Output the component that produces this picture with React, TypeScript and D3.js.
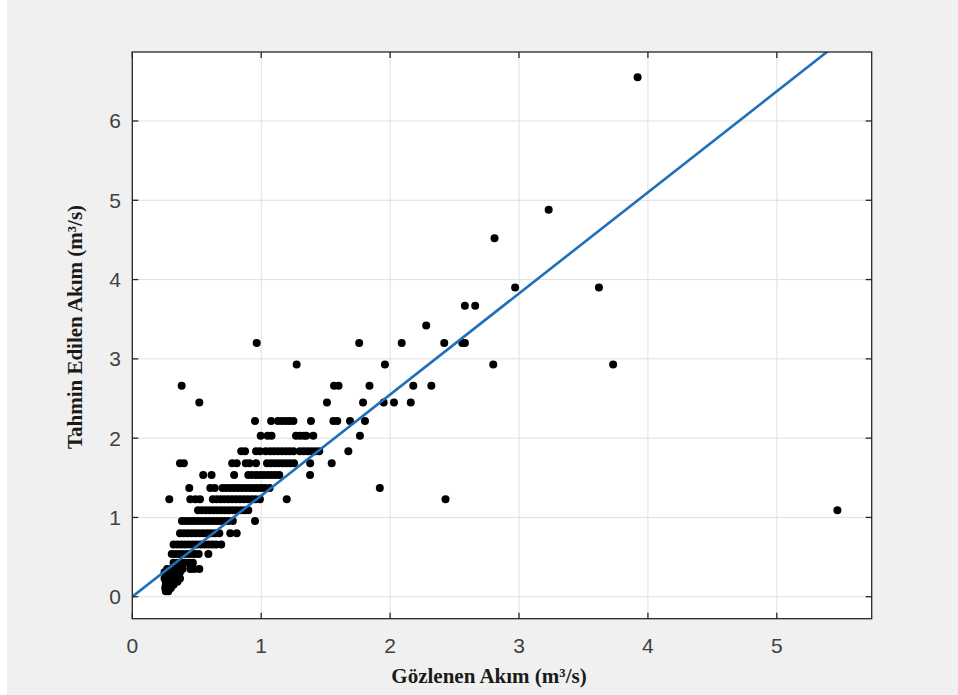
import React from "react";
import * as d3 from "d3";

// Tick labels
const xTicks = [0, 1, 2, 3, 4, 5];
const yTicks = [0, 1, 2, 3, 4, 5, 6];

// Regression line (predicted = slope * observed + intercept)
const fitSlope = 1.275;
const fitIntercept = 0;

// Predicted levels (m³/s) and the observed values (m³/s) that fall on each level
const predictedLevels = [
  6.55, 4.88, 4.52, 3.9, 3.67, 3.42, 3.2, 2.93, 2.66, 2.45, 2.215, 2.03, 1.835,
  1.685, 1.535, 1.37, 1.228, 1.09, 0.955, 0.8, 0.66, 0.54, 0.43, 0.35, 0.31,
  0.27, 0.23, 0.19, 0.15, 0.11, 0.07,
];
const observedByLevel: number[][] = [
  [3.92],
  [3.23],
  [2.81],
  [2.97, 3.62],
  [2.58, 2.66],
  [2.28],
  [0.965, 1.76, 2.09, 2.42, 2.56, 2.58],
  [1.275, 1.96, 2.8, 3.73],
  [0.383, 1.565, 1.6, 1.84, 2.18, 2.32],
  [0.52, 1.51, 1.79, 1.95, 2.03, 2.16],
  [0.952, 1.077, 1.13, 1.16, 1.19, 1.22, 1.25, 1.386, 1.56, 1.59, 1.689, 1.805],
  [0.996, 1.05, 1.08, 1.27, 1.3, 1.33, 1.35, 1.404, 1.766],
  [0.845, 0.875, 0.96, 0.99, 1.035, 1.07, 1.1, 1.13, 1.16, 1.19, 1.22, 1.25, 1.3, 1.33, 1.36, 1.39, 1.42, 1.45, 1.676],
  [0.37, 0.4, 0.775, 0.81, 0.88, 0.91, 0.96, 1.045, 1.075, 1.105, 1.135, 1.165, 1.195, 1.225, 1.255, 1.38, 1.547],
  [0.55, 0.615, 0.79, 0.9, 0.93, 0.96, 0.99, 1.02, 1.05, 1.08, 1.11, 1.14, 1.379],
  [0.442, 0.605, 0.64, 0.7, 0.73, 0.76, 0.79, 0.82, 0.85, 0.88, 0.91, 0.94, 0.97, 1.0, 1.03, 1.065, 1.92],
  [0.287, 0.45, 0.49, 0.525, 0.625, 0.655, 0.685, 0.715, 0.745, 0.775, 0.805, 0.835, 0.865, 0.895, 0.925, 0.955, 0.99, 1.198, 2.43],
  [0.51, 0.54, 0.57, 0.6, 0.63, 0.66, 0.69, 0.72, 0.75, 0.78, 0.81, 0.84, 0.87, 0.9, 5.47],
  [0.385, 0.415, 0.445, 0.475, 0.505, 0.535, 0.565, 0.595, 0.625, 0.655, 0.685, 0.715, 0.745, 0.78, 0.952],
  [0.37, 0.4, 0.43, 0.46, 0.49, 0.52, 0.55, 0.58, 0.61, 0.64, 0.675, 0.76, 0.81],
  [0.32, 0.35, 0.38, 0.41, 0.44, 0.47, 0.5, 0.53, 0.56, 0.59, 0.62, 0.65, 0.69],
  [0.306, 0.335, 0.365, 0.395, 0.425, 0.455, 0.485, 0.515, 0.59],
  [0.32, 0.35, 0.38, 0.41, 0.44, 0.47],
  [0.27, 0.3, 0.33, 0.36, 0.39, 0.45, 0.48, 0.52],
  [0.25, 0.28, 0.31, 0.34, 0.37],
  [0.26, 0.29, 0.32, 0.35],
  [0.25, 0.28, 0.31, 0.34, 0.37],
  [0.26, 0.29, 0.32, 0.35],
  [0.26, 0.29, 0.32],
  [0.255, 0.28, 0.3],
  [0.26, 0.28],
];

const W = 958;
const H = 695;
const L = 132.3, R = 871.7, T = 52, B = 618.7;

export default function App() {
  const x = d3.scaleLinear().domain([0, 5.736]).range([L, R]);
  const y = d3.scaleLinear().domain([-0.277, 6.87]).range([B, T]);

  const points: [number, number][] = [];
  predictedLevels.forEach((lv, i) => {
    observedByLevel[i].forEach((ob) => points.push([ob, lv]));
  });

  const xEnd = (6.87 - fitIntercept) / fitSlope;
  const line = d3.line<number>()
    .x((v) => x(v))
    .y((v) => y(fitSlope * v + fitIntercept));

  const axisColor = "#262626";
  const gridColor = "#dfdfdf";
  const tickLen = 6;

  return (
    <svg
      width={W}
      height={H}
      style={{ position: "absolute", left: 0, top: 0, display: "block" }}
    >
      <rect x={0} y={0} width={W} height={H} fill="#ffffff" />
      <rect x={7} y={0} width={W - 7} height={H} fill="#f0f0f0" />
      <defs>
        <clipPath id="plotclip">
          <rect x={L} y={T} width={R - L} height={B - T} />
        </clipPath>
      </defs>
      <rect x={L} y={T} width={R - L} height={B - T} fill="#ffffff" />
      {/* grid */}
      {xTicks.map((t) => (
        <line key={"gx" + t} x1={x(t)} x2={x(t)} y1={T} y2={B} stroke={gridColor} strokeWidth={1} />
      ))}
      {yTicks.map((t) => (
        <line key={"gy" + t} x1={L} x2={R} y1={y(t)} y2={y(t)} stroke={gridColor} strokeWidth={1} />
      ))}
      {/* points */}
      <g clipPath="url(#plotclip)">
        {points.map((p, i) => (
          <circle key={i} cx={x(p[0])} cy={y(p[1])} r={4} fill="#000000" />
        ))}
        <path
          d={line([0, xEnd + 0.05]) || ""}
          fill="none"
          stroke="#1f6fb8"
          strokeWidth={2.6}
        />
      </g>
      {/* box */}
      <rect x={L} y={T} width={R - L} height={B - T} fill="none" stroke={axisColor} strokeWidth={1.3} />
      {/* ticks */}
      {xTicks.map((t) => (
        <g key={"tx" + t}>
          <line x1={x(t)} x2={x(t)} y1={B} y2={B - tickLen} stroke={axisColor} strokeWidth={1.3} />
          <line x1={x(t)} x2={x(t)} y1={T} y2={T + tickLen} stroke={axisColor} strokeWidth={1.3} />
          <text
            x={x(t)}
            y={653}
            textAnchor="middle"
            fontFamily="'Liberation Sans', Arial, sans-serif"
            fontSize={21}
            fill="#404040"
          >
            {t}
          </text>
        </g>
      ))}
      {yTicks.map((t) => (
        <g key={"ty" + t}>
          <line x1={L} x2={L + tickLen} y1={y(t)} y2={y(t)} stroke={axisColor} strokeWidth={1.3} />
          <line x1={R} x2={R - tickLen} y1={y(t)} y2={y(t)} stroke={axisColor} strokeWidth={1.3} />
          <text
            x={121}
            y={y(t) + 7.5}
            textAnchor="end"
            fontFamily="'Liberation Sans', Arial, sans-serif"
            fontSize={21}
            fill="#404040"
          >
            {t}
          </text>
        </g>
      ))}
      {/* axis titles */}
      <text
        x={489}
        y={683}
        textAnchor="middle"
        fontFamily="'Liberation Serif', 'Times New Roman', serif"
        fontWeight="bold"
        fontSize={21}
        fill="#1a1a1a"
      >
        Gözlenen Akım (m³/s)
      </text>
      <text
        transform={`translate(82, ${327}) rotate(-90)`}
        textAnchor="middle"
        fontFamily="'Liberation Serif', 'Times New Roman', serif"
        fontWeight="bold"
        fontSize={21}
        fill="#1a1a1a"
      >
        Tahmin Edilen Akım (m³/s)
      </text>
    </svg>
  );
}
